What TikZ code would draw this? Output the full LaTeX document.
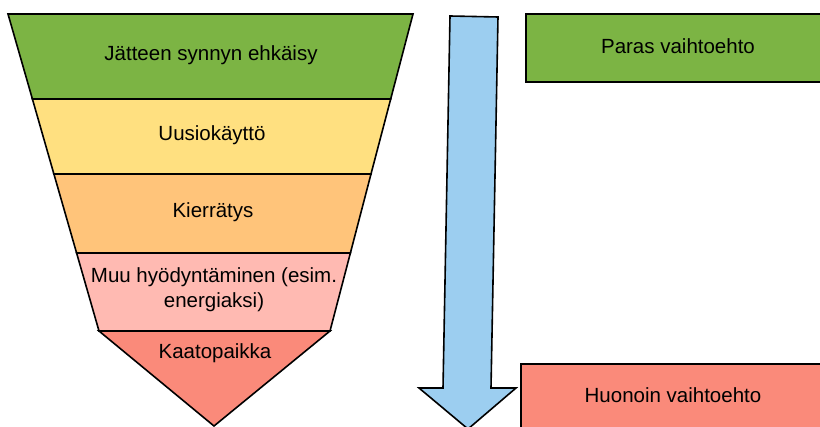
\documentclass[tikz,border=0pt]{standalone}
\usepackage{fontspec}
\setmainfont{Liberation Sans}
\definecolor{bandgreen}{RGB}{124,180,68}
\definecolor{bandyellow}{RGB}{255,224,128}
\definecolor{bandorange}{RGB}{255,196,122}
\definecolor{bandpink}{RGB}{255,186,178}
\definecolor{bandred}{RGB}{250,138,122}
\definecolor{arrowblue}{RGB}{156,206,240}

\begin{document}
\begin{tikzpicture}[x=1pt,y=-1pt,line width=1.6pt,line join=miter,
  lbl/.style={font=\fontsize{20.5}{25}\selectfont,align=center,inner sep=0pt}]
  \useasboundingbox (0,0) rectangle (820,427);
  \clip (0,0) rectangle (820,427);
  % funnel bands
  \filldraw[fill=bandgreen]  (8,14)    -- (413,14)    -- (390.7,99)  -- (32.4,99)  -- cycle;
  \filldraw[fill=bandyellow] (32.4,99) -- (390.7,99)  -- (371,174)   -- (53.9,174) -- cycle;
  \filldraw[fill=bandorange] (53.9,174) -- (371,174)  -- (350.4,253) -- (76.6,253) -- cycle;
  \filldraw[fill=bandpink]   (76.6,253) -- (350.4,253) -- (330,331)  -- (99,331)   -- cycle;
  \filldraw[fill=bandred]    (99,331)  -- (330,331)   -- (214,426)   -- cycle;
  \node[lbl] (prevent) at (211,55)  {Jätteen synnyn ehkäisy};
  \node[lbl] (reuse)   at (212,135) {Uusiokäyttö};
  \node[lbl] (recycle) at (213,212) {Kierrätys};
  \node[lbl] (energy)  at (214,290) {Muu hyödyntäminen (esim.\\energiaksi)};
  \node[lbl] (landfill) at (215,353) {Kaatopaikka};
  % arrow
  \filldraw[fill=arrowblue] (450,16) -- (498,17) -- (491,388) -- (516,388)
    -- (468,429) -- (419,388) -- (443,388) -- cycle;
  % boxes
  \filldraw[fill=bandgreen] (526,14) rectangle (840,82);
  \filldraw[fill=bandred]   (521,364) rectangle (840,450);
  \node[lbl] (best)  at (678,46)  {Paras vaihtoehto};
  \node[lbl] (worst) at (673,395) {Huonoin vaihtoehto};
\end{tikzpicture}
\end{document}
